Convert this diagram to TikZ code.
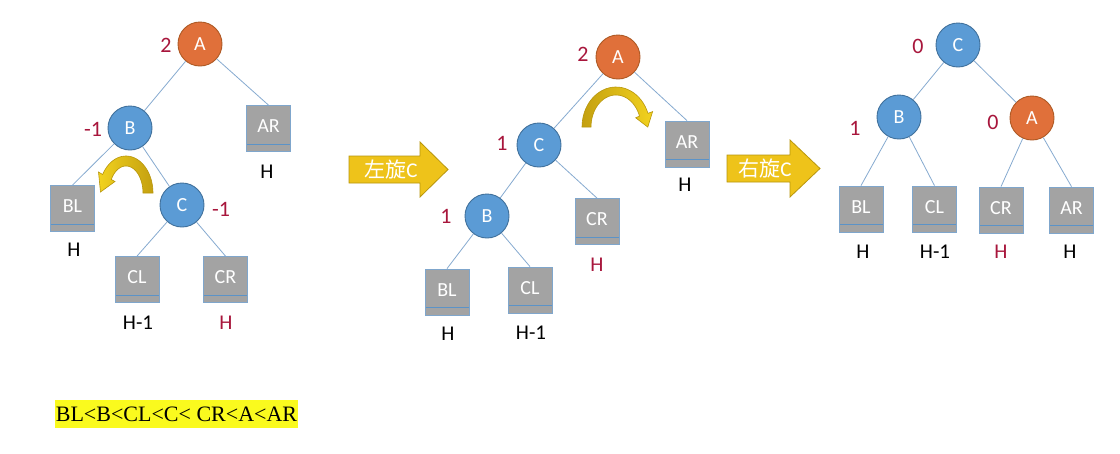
\documentclass[tikz,border=0pt]{standalone}
\usepackage{fontspec}
\setmainfont{Carlito}
\newfontfamily\cjkf{Noto Sans CJK SC}
\newfontfamily\serifrm{Liberation Serif}
\newcommand\fsz[1]{\fontsize{#1}{#1}\selectfont}
\definecolor{cblue}{HTML}{5B9BD5}
\definecolor{cblueb}{HTML}{41719C}
\definecolor{corange}{HTML}{E0703A}
\definecolor{corangeb}{HTML}{AE5A25}
\definecolor{bgray}{HTML}{A3A3A3}
\definecolor{bborder}{HTML}{7FA6CC}
\definecolor{stripc}{HTML}{5B93C8}
\definecolor{edgec}{HTML}{86AAD0}
\definecolor{numred}{HTML}{A8163C}
\definecolor{gold}{HTML}{EEC31A}
\definecolor{goldb}{HTML}{B8960C}
\definecolor{golddark}{HTML}{C4A010}
\definecolor{goldlight}{HTML}{F2D21E}
\definecolor{hlyellow}{HTML}{FAFA1E}
\begin{document}
\begin{tikzpicture}[x=1pt,y=-1pt,
  circ/.style={circle, minimum size=44pt, inner sep=0pt, fill=cblue, draw=cblueb, line width=0.9pt, text=white, font=\fsz{20}},
  orng/.style={circ, fill=corange, draw=corangeb},
  box/.style={rectangle, minimum width=44pt, minimum height=46pt, inner sep=0pt, fill=bgray, draw=bborder, line width=0.8pt, text=white, font=\fsz{20},
    path picture={\draw[stripc, line width=0.9pt] ([yshift=7.5pt]path picture bounding box.south west) -- ([yshift=7.5pt]path picture bounding box.south east);}},
  num/.style={text=numred, font=\fsz{22}, inner sep=0pt},
  hl/.style={text=black, font=\fsz{21}, inner sep=0pt},
  hlred/.style={hl, text=numred},
  edge/.style={draw=edgec, line width=0.8pt},
  bigarrow/.style={fill=gold, draw=goldb, line width=0.8pt},
  arrowtext/.style={text=white, font=\fsz{21}, inner sep=0pt},
  curvarrow/.style={draw=goldb, line width=0.6pt}
]
\useasboundingbox (0,0) rectangle (1120,453);
\fill[white] (0,0) rectangle (1120,453);

% ---------- Panel 1 ----------
\node[orng] (a1) at (200,44) {A};
\node[circ] (b1) at (130,128) {B};
\node[circ] (c1) at (182,205) {C};
\node[box] (ar1) at (268.5,128.5) {\raisebox{4pt}{AR}};
\node[box] (bl1) at (72.5,208.5) {\raisebox{4pt}{BL}};
\node[box] (cl1) at (137,279.5) {\raisebox{4pt}{CL}};
\node[box] (cr1) at (225.5,279.5) {\raisebox{4pt}{CR}};
\draw[edge] (a1) -- (b1);
\draw[edge] (a1) -- (ar1.north);
\draw[edge] (b1) -- (bl1.north);
\draw[edge] (b1) -- (c1);
\draw[edge] (c1) -- (cl1.north);
\draw[edge] (c1) -- (cr1.north);
\node[num] (na1) at (166,45) {2};
\node[num] (nb1) at (93,129) {-1};
\node[num] (nc1) at (221,209) {-1};
\node[hl] (hbl1) at (74,250) {H};
\node[hl] (har1) at (267,172) {H};
\node[hl] (hcl1) at (138,323) {H-1};
\node[hlred] (hcr1) at (226,323) {H};
\shadedraw[curvarrow, left color=goldlight, right color=golddark]
  (143,193) -- plot[domain=0:150,samples=30] ({126+27*cos(\x)},{193-37*sin(\x)})
  -- (98.5,172) -- (100.5,192) -- (115,181.5)
  -- plot[domain=150:0,samples=30] ({126+17*cos(\x)},{193-27*sin(\x)}) -- cycle;

% ---------- Arrow 1 ----------
\draw[bigarrow] (349,156) -- (420,156) -- (420,142) -- (448,169.5) -- (420,197) -- (420,183) -- (349,183) -- cycle;
\node[arrowtext] (t1) at (391,170) {{\cjkf 左旋}C};

% ---------- Panel 2 ----------
\node[orng] (a2) at (618,57) {A};
\node[circ] (c2) at (539,145) {C};
\node[circ] (b2) at (487,216) {B};
\node[box] (ar2) at (687,144) {\raisebox{4pt}{AR}};
\node[box] (cr2) at (597,221.5) {\raisebox{4pt}{CR}};
\node[box] (bl2) at (447,292) {\raisebox{4pt}{BL}};
\node[box] (cl2) at (530,290) {\raisebox{4pt}{CL}};
\draw[edge] (a2) -- (c2);
\draw[edge] (a2) -- (ar2.north);
\draw[edge] (c2) -- (b2);
\draw[edge] (c2) -- (cr2.north);
\draw[edge] (b2) -- (bl2.north);
\draw[edge] (b2) -- (cl2.north);
\node[num] (na2) at (583,54) {2};
\node[num] (nc2) at (502,143) {1};
\node[num] (nb2) at (446,216) {1};
\node[hl] (har2) at (685,185) {H};
\node[hlred] (hcr2) at (597,265) {H};
\node[hl] (hbl2) at (448,334) {H};
\node[hl] (hcl2) at (531,333) {H-1};
\shadedraw[curvarrow, left color=golddark, right color=goldlight]
  (591,127) -- plot[domain=180:20,samples=30] ({616+34*cos(\x)},{127-40*sin(\x)})
  -- (652.6,111.6) -- (647.8,127.1) -- (635.7,117.8)
  -- plot[domain=20:180,samples=30] ({616+25*cos(\x)},{127-32*sin(\x)}) -- cycle;

% ---------- Arrow 2 ----------
\draw[bigarrow] (727,155) -- (790,155) -- (790,140) -- (820,168.5) -- (790,197) -- (790,182) -- (727,182) -- cycle;
\node[arrowtext] (t2) at (765,169) {{\cjkf 右旋}C};

% ---------- Panel 3 ----------
\node[circ] (c3) at (958,45) {C};
\node[circ] (b3) at (899,117) {B};
\node[orng] (a3) at (1032,118) {A};
\node[box] (bl3) at (861,209) {\raisebox{4pt}{BL}};
\node[box] (cl3) at (934.5,209) {\raisebox{4pt}{CL}};
\node[box] (cr3) at (1001,210) {\raisebox{4pt}{CR}};
\node[box] (ar3) at (1071.5,210) {\raisebox{4pt}{AR}};
\draw[edge] (c3) -- (b3);
\draw[edge] (c3) -- (a3);
\draw[edge] (b3) -- (bl3.north);
\draw[edge] (b3) -- (cl3.north);
\draw[edge] (a3) -- (cr3.north);
\draw[edge] (a3) -- (ar3.north);
\node[num] (nc3) at (918,46) {0};
\node[num] (nb3) at (855,128) {1};
\node[num] (na3) at (993,122) {0};
\node[hl] (hbl3) at (863,252) {H};
\node[hl] (hcl3) at (935,252) {H-1};
\node[hlred] (hcr3) at (1001,252) {H};
\node[hl] (har3) at (1070,252) {H};

% ---------- Order ----------
\node[fill=hlyellow, minimum width=243pt, minimum height=28pt, inner sep=0pt, font=\serifrm\fsz{22}] (order) at (176.5,414) {BL<B<CL<C< CR<A<AR};
\end{tikzpicture}
\end{document}
